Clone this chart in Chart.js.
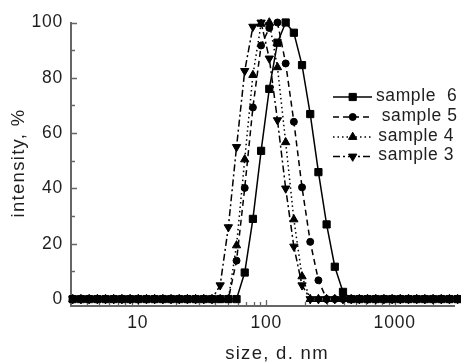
<!DOCTYPE html>
<html>
<head>
<meta charset="utf-8">
<script src="https://cdn.jsdelivr.net/npm/chart.js@4.4.1/dist/chart.umd.min.js"></script>
<style>
  html, body { margin: 0; padding: 0; background: #fff; }
</style>
</head>
<body>
<canvas id="chart" width="461" height="363"></canvas>
<script>
// size bins (d. nm), log spaced
const sizes = [
  3.122, 3.615, 4.187, 4.849, 5.615, 6.503, 7.531, 8.721,
  10.10, 11.70, 13.54, 15.69, 18.17, 21.04, 24.36, 28.21,
  32.67, 37.84, 43.82, 50.75, 58.77, 68.06, 78.82, 91.28,
  105.7, 122.4, 141.8, 164.2, 190.1, 220.2, 255.0, 295.3,
  342.0, 396.1, 458.7, 531.2, 615.1, 712.4, 825.0, 955.4,
  1106, 1281, 1484, 1718, 1990, 2305, 2669, 3091
];

const sample6 = [
  0, 0, 0, 0, 0, 0, 0, 0,
  0, 0, 0, 0, 0, 0, 0, 0,
  0, 0, 0, 0, 0, 9.6, 29, 53.6,
  76, 92.7, 100, 96.3, 84.6, 66.9, 45.9, 27,
  11.7, 2.6, 0, 0, 0, 0, 0, 0,
  0, 0, 0, 0, 0, 0, 0, 0
];
const sample5 = [
  0, 0, 0, 0, 0, 0, 0, 0,
  0, 0, 0, 0, 0, 0, 0, 0,
  0, 0, 0, 0, 13.9, 40.2, 69.3, 91.7,
  98, 100, 85.2, 64.1, 40.4, 20.7, 6.8, 0,
  0, 0, 0, 0, 0, 0, 0, 0,
  0, 0, 0, 0, 0, 0, 0, 0
];
const sample4 = [
  0, 0, 0, 0, 0, 0, 0, 0,
  0, 0, 0, 0, 0, 0, 0, 0,
  0, 0, 0, 0, 19.4, 50.5, 81, 99.5,
  100, 83.8, 56.7, 28.8, 8.2, 0, 0, 0,
  0, 0, 0, 0, 0, 0, 0, 0,
  0, 0, 0, 0, 0, 0, 0, 0
];
const sample3 = [
  0, 0, 0, 0, 0, 0, 0, 0,
  0, 0, 0, 0, 0, 0, 0, 0,
  0, 0, 5, 26, 55, 82.5, 98.5, 100,
  87, 64.7, 40, 19, 5, 0, 0, 0,
  0, 0, 0, 0, 0, 0, 0, 0,
  0, 0, 0, 0, 0, 0, 0, 0
];

const seriesLabels = ['sample  6', 'sample 5', 'sample 4', 'sample 3'];
const xTicks = [10, 100, 1000];
const yTicks = [0, 20, 40, 60, 80, 100];

const FONT = 'Liberation Sans, Arial, sans-serif';
const INK = '#1e1e1e';
const AXIS = '#666';

function points(vals) {
  return sizes.map((s, i) => ({ x: s, y: vals[i] }));
}

function series(label, vals, style, radius, rotation, dash) {
  return {
    label,
    data: points(vals),
    borderColor: '#000',
    borderWidth: 1.5,
    borderDash: dash,
    backgroundColor: '#000',
    pointStyle: style,
    pointRadius: radius,
    pointRotation: rotation,
    pointBackgroundColor: '#000',
    pointBorderColor: '#000',
    pointBorderWidth: 1,
    tension: 0,
    clip: false
  };
}

// inner ticks, titles and the legend box
const decor = {
  id: 'decor',
  beforeDraw(chart) {
    chart.ctx.letterSpacing = '0.8px';
  },
  beforeDatasetsDraw(chart) {
    const { ctx, chartArea: a, scales: { x, y } } = chart;
    ctx.save();
    ctx.strokeStyle = AXIS;
    ctx.lineWidth = 1.3;
    ctx.beginPath();
    for (let d = 1; d <= 1000; d *= 10) {
      for (let m = 1; m < 10; m++) {
        const v = d * m;
        if (v < x.min || v > x.max) continue;
        const px = Math.round(x.getPixelForValue(v)) + 0.5;
        const len = m === 1 ? 6 : 4;
        ctx.moveTo(px, a.bottom);
        ctx.lineTo(px, a.bottom - len);
      }
    }
    for (let v = 0; v <= 100; v += 10) {
      const py = Math.round(y.getPixelForValue(v)) + 0.5;
      const len = v % 20 === 0 ? 6 : 4;
      ctx.moveTo(a.left, py);
      ctx.lineTo(a.left + len, py);
    }
    ctx.stroke();
    ctx.restore();
  },
  afterDraw(chart) {
    const ctx = chart.ctx;
    ctx.save();
    ctx.fillStyle = INK;
    ctx.letterSpacing = '1.3px';
    ctx.font = '18.5px ' + FONT;
    ctx.textAlign = 'center';
    ctx.textBaseline = 'middle';
    ctx.fillText('size, d. nm', 277, 354);
    ctx.save();
    ctx.translate(19, 163);
    ctx.rotate(-Math.PI / 2);
    ctx.fillText('intensity, %', 0, 0);
    ctx.restore();

    // legend
    const rows = [97, 117, 137, 156.5];
    const textX = [376, 381.7, 378.3, 378.3];
    ctx.letterSpacing = '0.6px';
    ctx.font = '17.5px ' + FONT;
    ctx.textAlign = 'left';
    chart.data.datasets.forEach((ds, i) => {
      const yy = rows[i];
      ctx.save();
      ctx.strokeStyle = '#000';
      ctx.lineWidth = ds.borderWidth;
      ctx.setLineDash(ds.borderDash || []);
      ctx.beginPath();
      ctx.moveTo(333, yy);
      ctx.lineTo(372, yy);
      ctx.stroke();
      ctx.setLineDash([]);
      ctx.fillStyle = '#000';
      ctx.strokeStyle = '#000';
      ctx.lineWidth = ds.pointBorderWidth;
      Chart.helpers.drawPoint(ctx, {
        pointStyle: ds.pointStyle,
        radius: ds.pointRadius,
        rotation: ds.pointRotation,
        borderWidth: ds.pointBorderWidth
      }, 352.7, yy);
      ctx.restore();
      ctx.fillText(ds.label, textX[i], yy - 1);
    });
    ctx.restore();
  }
};

new Chart(document.getElementById('chart'), {
  type: 'line',
  data: {
    datasets: [
      series(seriesLabels[0], sample6, 'rect', 5.1, 0, []),
      series(seriesLabels[1], sample5, 'circle', 3.5, 0, [6, 4]),
      series(seriesLabels[2], sample4, 'triangle', 4.8, 0, [1.5, 3]),
      series(seriesLabels[3], sample3, 'triangle', 4.8, 180, [7, 3, 2, 3])
    ]
  },
  options: {
    responsive: false,
    animation: false,
    devicePixelRatio: 1,
    layout: { padding: { top: 22.5, right: 0, left: 0, bottom: 0 } },
    plugins: {
      legend: { display: false },
      tooltip: { enabled: false }
    },
    scales: {
      x: {
        type: 'logarithmic',
        position: 'bottom',
        min: 3.024,
        max: 2944,
        grid: { display: false, drawTicks: false },
        border: { display: true, color: AXIS, width: 2 },
        ticks: {
          font: { family: FONT, size: 17.5 },
          color: INK,
          padding: 7,
          autoSkip: false,
          maxRotation: 0,
          callback: v => String(v)
        },
        afterBuildTicks: s => { s.ticks = xTicks.map(v => ({ value: v })); },
        afterFit: s => { s.height = 57; }
      },
      y: {
        type: 'linear',
        min: -2.5,
        max: 100,
        grid: { display: false, drawTicks: false },
        border: { display: true, color: AXIS, width: 2 },
        ticks: {
          font: { family: FONT, size: 17.5 },
          color: INK,
          padding: 8,
          callback: v => String(v)
        },
        afterBuildTicks: s => { s.ticks = yTicks.map(v => ({ value: v })); },
        afterFit: s => { s.width = 71; }
      }
    }
  },
  plugins: [decor]
});
</script>
</body>
</html>
